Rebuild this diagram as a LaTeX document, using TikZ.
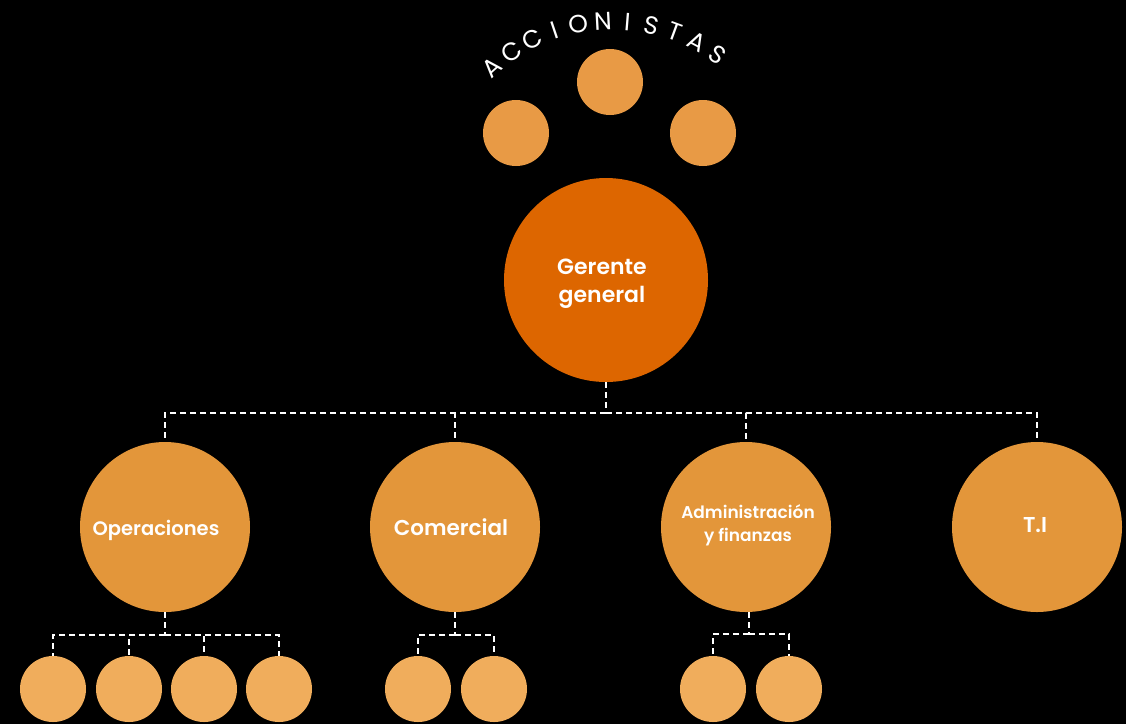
\documentclass[tikz,border=0pt]{standalone}
\usepackage{fontspec}
\setmainfont{Poppins}[BoldFont={Poppins SemiBold}]
\usetikzlibrary{calc}
\definecolor{ggcol}{HTML}{DD6600}
\definecolor{depcol}{HTML}{E3963A}
\definecolor{topcol}{HTML}{E89A45}
\definecolor{subcol}{HTML}{F0AD5C}
\begin{document}
\begin{tikzpicture}[x=1pt,y=-1pt,
  topc/.style={circle, fill=topcol, minimum size=66pt, inner sep=0pt},
  ggc/.style={circle, fill=ggcol, minimum size=204pt, inner sep=0pt},
  depc/.style={circle, fill=depcol, minimum size=170pt, inner sep=0pt},
  subc/.style={circle, fill=subcol, minimum size=66pt, inner sep=0pt},
  lbl/.style={text=white, align=center, inner sep=0pt},
  conn/.style={draw=white, line width=2pt, dash pattern=on 6pt off 4pt},
  letter/.style={text=white, font=\fontsize{25}{25}\selectfont, inner sep=0pt}]
\useasboundingbox (0,0) rectangle (1126,724);
\fill[black] (0,0) rectangle (1126,724);
\clip (0,0) rectangle (1126,724);

% accionistas
\coordinate (arcc) at (612.5,201.8);
\foreach \l [count=\i] in {A,C,C,I,O,N,I,S,T,A,S} {
  \pgfmathsetmacro\ang{131.8-(\i-1)*7.75}
  \node[letter, rotate=\ang-90] (l\i) at ($(arcc)+(-\ang:180.8)$) {\l};
}
\node[topc] (a1) at (516,133) {};
\node[topc] (a2) at (610,82) {};
\node[topc] (a3) at (703,133) {};

% gerente
\node[ggc] (gg) at (606,280) {};
\node[lbl, font=\bfseries\fontsize{22}{28}\selectfont] (ggt) at (602,284) {Gerente\\general};

% departments
\node[depc] (op) at (165,527) {};
\node[depc] (co) at (455,527) {};
\node[depc] (ad) at (746,527) {};
\node[depc] (ti) at (1037,527) {};
\node[lbl, font=\bfseries\fontsize{19.5}{24}\selectfont] (opt) at (156,530) {Operaciones};
\node[lbl, font=\bfseries\fontsize{21.5}{25}\selectfont] (cot) at (451,527) {Comercial};
\node[lbl, font=\bfseries\fontsize{17}{23}\selectfont] (adt) at (748,525) {Administración\\y finanzas};
\node[lbl, font=\bfseries\fontsize{21.5}{25}\selectfont] (tit) at (1035,525) {T.I};

\coordinate (bus) at (606,413);
\draw[conn] (gg.south) -- (bus);
\draw[conn] (bus) -| (op.north);
\draw[conn] (bus) -| (co.north);
\draw[conn] (bus) -| (ad.north);
\draw[conn] (bus) -| (ti.north);

% sub units
\node[subc] (o1) at (53,689) {};
\node[subc] (o2) at (129,689) {};
\node[subc] (o3) at (204,689) {};
\node[subc] (o4) at (279,689) {};
\node[subc] (c1) at (418,689) {};
\node[subc] (c2) at (494,689) {};
\node[subc] (d1) at (713,689) {};
\node[subc] (d2) at (789,689) {};

\coordinate (obus) at (165,635);
\draw[conn] (op.south) -- (obus);
\foreach \n in {o1,o2,o3,o4} \draw[conn] (obus) -| (\n.north);
\coordinate (cbus) at (455,635);
\draw[conn] (co.south) -- (cbus);
\foreach \n in {c1,c2} \draw[conn] (cbus) -| (\n.north);
\coordinate (dbus) at (749,634);
\draw[conn] (ad.south -| dbus) -- (dbus);
\foreach \n in {d1,d2} \draw[conn] (dbus) -| (\n.north);
\end{tikzpicture}
\end{document}
